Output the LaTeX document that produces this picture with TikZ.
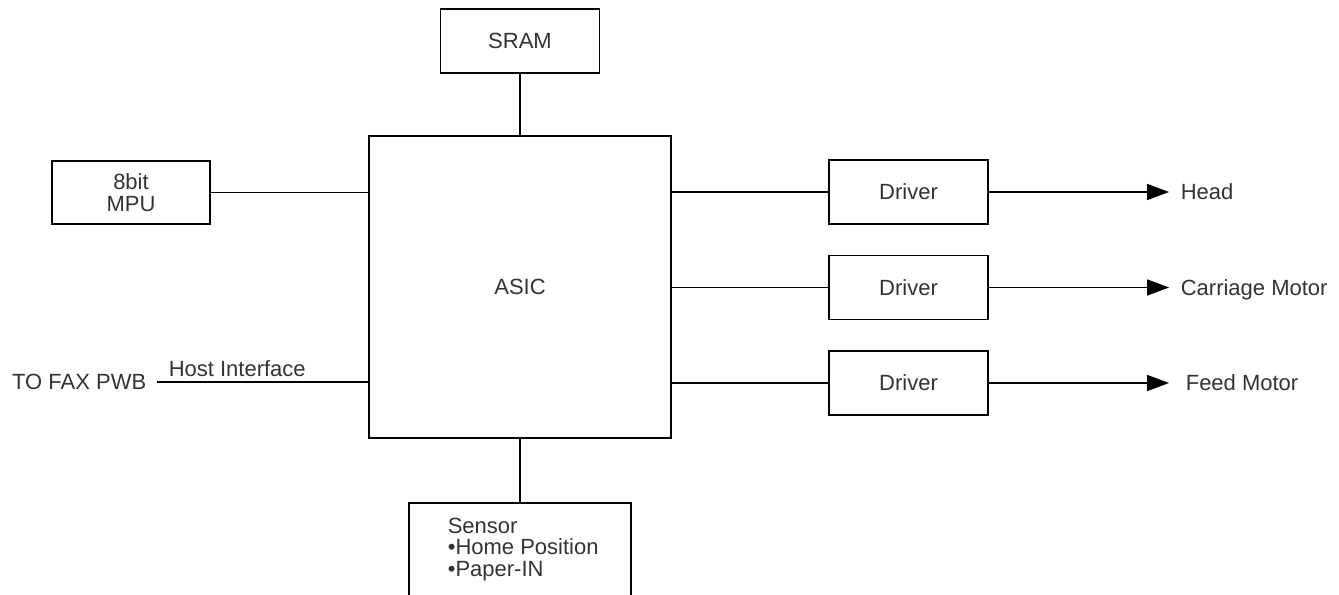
\documentclass[tikz,border=0pt]{standalone}
\usepackage{fontspec}
\setmainfont{Liberation Sans}
\usetikzlibrary{arrows.meta}

\begin{document}
\begin{tikzpicture}[x=0.75pt, y=-0.75pt, line width=1.2pt,
		font=\fontsize{16.5}{16.3}\selectfont,
		box/.style={draw, text=black!80, align=center, inner sep=0pt},
		lbl/.style={text=black!80, inner sep=0pt, text depth=0pt},
		sig/.style={-{Triangle[length=16.5pt, width=12pt]}}]
			%%%%% START %%%%%
			\useasboundingbox (0, 0) rectangle (1339, 595);
			\clip (0, 0) rectangle (1339, 595);
			
			\node[box, minimum width=226.5pt, minimum height=226.5pt] (asic) at (520, 287) {ASIC};
			\node[box, minimum width=119.25pt, minimum height=48pt] (sram) at (520, 41) {SRAM};
			\node[box, minimum width=118.5pt, minimum height=47.25pt] (mpu) at (131, 192.5) {8bit\\MPU};
			
			\node[box, minimum width=119.25pt, minimum height=48pt] (drv1) at (908.5, 192) {Driver};
			\node[box, minimum width=119.25pt, minimum height=48pt] (drv2) at (908.5, 287.5) {Driver};
			\node[box, minimum width=119.25pt, minimum height=48pt] (drv3) at (908.5, 383) {Driver};
			
			\node[box, minimum width=166.5pt, minimum height=105pt, anchor=north] (sensor) at (520, 502) {};
			\node[lbl, anchor=north west, align=left, text depth=] (sensortext) at (447, 517) {Sensor\\•Home Position\\•Paper-IN};
			
			\node[lbl, anchor=east, inner xsep=7.5pt] (fax) at (157, 382) {TO FAX PWB};
			
			\coordinate (headend) at (1169, 192);
			\coordinate (carend) at (1169, 287.5);
			\coordinate (feedend) at (1169, 383);
			\node[lbl, anchor=west] (head) at (1180, 192) {Head};
			\node[lbl, anchor=west] (car) at (1180, 287.5) {Carriage Motor};
			\node[lbl, anchor=west] (feed) at (1185, 383) {Feed Motor};
			
			% buses into the ASIC
			\draw (sram.south) -- (sram.south |- asic.north);
			\draw (mpu.east) -- (mpu.east -| asic.west);
			\draw (fax.east) -- node[lbl, above=3.75pt, pos=0.38] (host) {Host Interface} (fax.east -| asic.west);
			\draw (asic.south) -- (sensor.north);
			
			% ASIC to the drivers
			\draw (asic.east |- drv1.west) -- (drv1.west);
			\draw (asic.east |- drv2.west) -- (drv2.west);
			\draw (asic.east |- drv3.west) -- (drv3.west);
			
			% drivers out
			\draw[sig] (drv1.east) -- (headend);
			\draw[sig] (drv2.east) -- (carend);
			\draw[sig] (drv3.east) -- (feedend);
			
			%%%%% END %%%%%
		\end{tikzpicture}
\end{document}
